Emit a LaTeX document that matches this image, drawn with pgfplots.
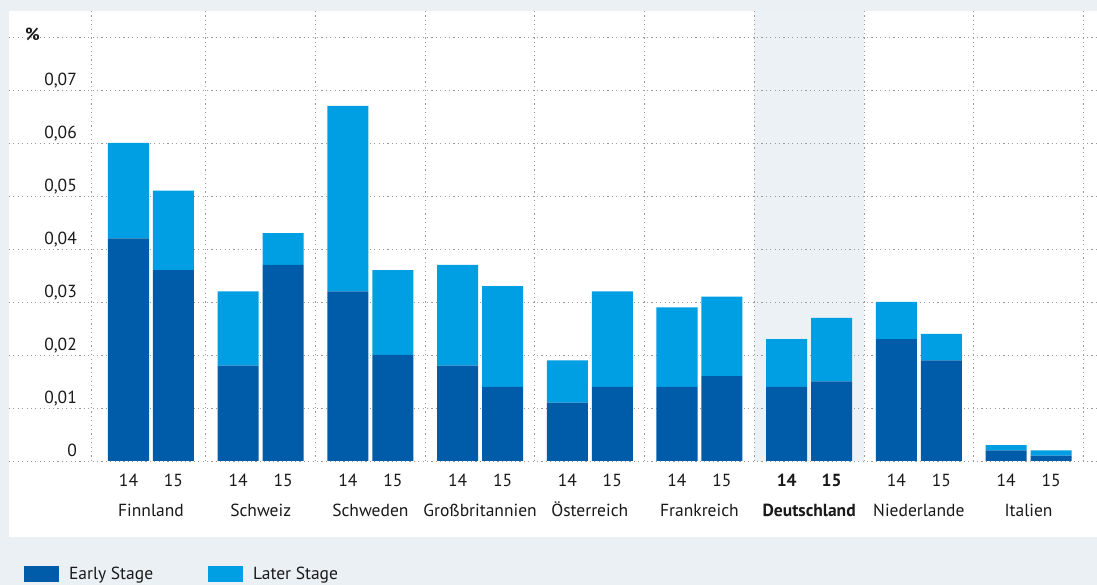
\documentclass[border=0pt]{standalone}
\usepackage{fontspec}
\setmainfont{PT Sans}
\usepackage{pgfplots}
\pgfplotsset{compat=1.18}
\usepackage{pgfplotstable}
\definecolor{early}{HTML}{005CA9}
\definecolor{later}{HTML}{009FE3}
\definecolor{bgc}{HTML}{EBF0F5}
\definecolor{hl}{HTML}{ECF1F6}
\definecolor{gridc}{HTML}{9A9A9A}
\newcommand\lab{\fontsize{17.5}{20}\selectfont}

\pgfplotstableread{
x      early  later
-0.205 0.042  0.018
0.205  0.036  0.015
0.795  0.018  0.014
1.205  0.037  0.006
1.795  0.032  0.035
2.205  0.020  0.016
2.795  0.018  0.019
3.205  0.014  0.019
3.795  0.011  0.008
4.205  0.014  0.018
4.795  0.014  0.015
5.205  0.016  0.015
5.795  0.014  0.009
6.205  0.015  0.012
6.795  0.023  0.007
7.205  0.019  0.005
7.795  0.002  0.001
8.205  0.001  0.001
}\data

\pgfplotsset{base/.style={
  scale only axis, width=1088pt, height=450.5pt,
  at={(9pt,124pt)}, anchor=south west,
  xmin=-1.2944, xmax=8.6235, ymin=0, ymax=0.085,
}}

\begin{document}
\begin{tikzpicture}
\useasboundingbox (0,0) rectangle (1097pt,585pt);
\fill[bgc] (0,0) rectangle (1097pt,585pt);
\fill[white] (9pt,48pt) rectangle (1097pt,574.3pt);
\begin{axis}[base, hide axis, clip=false]
\fill[hl] (axis cs:5.497,0) rectangle (axis cs:6.5,0.085);
\end{axis}
\begin{axis}[base, clip=false,
  ybar stacked, bar width=0.374,
  axis line style={draw=none},
  major tick length=0pt, minor tick length=0pt,
  ymajorgrids, xminorgrids,
  grid style={color=gridc, line width=0.9pt, dash pattern=on 1.1pt off 3.3pt},
  minor grid style={color=gridc, line width=0.9pt, dash pattern=on 1.1pt off 3.3pt},
  minor xtick={-0.54,0.5,1.5,2.5,3.5,4.5,5.5,6.5,7.5,8.5},
  ytick={0,0.01,0.02,0.03,0.04,0.05,0.06,0.07,0.08},
  yticklabels={0,{0,01},{0,02},{0,03},{0,04},{0,05},{0,06},{0,07},{}},
  yticklabel style={anchor=base east, inner sep=0pt, xshift=68pt, yshift=4.5pt, font=\lab, text=black!90},
  xtick={-0.205,0.205,0.795,1.205,1.795,2.205,2.795,3.205,3.795,4.205,4.795,5.205,5.795,6.205,6.795,7.205,7.795,8.205},
  xticklabels={14,15,14,15,14,15,14,15,14,15,14,15,\textbf{14},\textbf{15},14,15,14,15},
  xticklabel style={anchor=base, inner sep=0pt, yshift=-26pt, font=\lab, text=black!90},
  extra x ticks={0,1,2,3,4,5,6,7,8},
  extra x tick labels={Finnland,Schweiz,Schweden,Großbritannien,Österreich,Frankreich,\textbf{Deutschland},Niederlande,Italien},
  extra x tick style={grid=none, xticklabel style={yshift=-30pt}},
  legend style={at={(0.01379,-0.2508)}, anchor=west, draw=none, fill=none,
    legend columns=2, inner sep=0pt, outer sep=0pt, font=\lab, text=black!90,
    /tikz/every even column/.append style={column sep=55pt},
    nodes={inner sep=0pt, anchor=west}},
  legend image code/.code={\fill[#1,draw=none] (0pt,-8pt) rectangle (35pt,8pt); \path (45pt,0pt);},
]
\addplot[fill=early, draw=none] table[x=x, y=early] {\data};
\addplot[fill=later, draw=none] table[x=x, y=later] {\data};
\legend{Early Stage, Later Stage}
\node[anchor=base west, font=\lab\bfseries, text=black!90, inner sep=0pt] at (axis cs:-1.1486,0.0794) {\%};
\end{axis}
\end{tikzpicture}
\end{document}
